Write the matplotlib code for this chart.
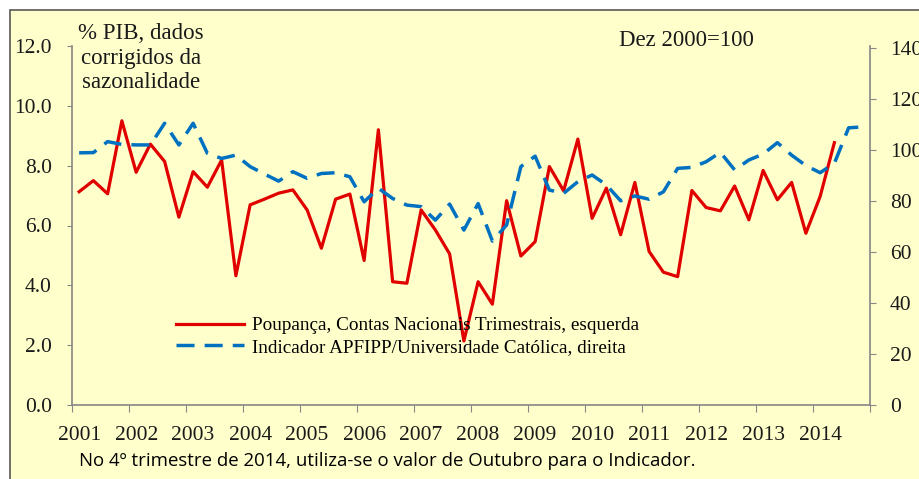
import matplotlib
matplotlib.use("Agg")
import matplotlib.pyplot as plt
from matplotlib.patches import Rectangle
import numpy as np

# quarterly data, 2001Q1 onwards
poupanca = [7.13, 7.50, 7.06, 9.50, 7.78, 8.72, 8.14, 6.28, 7.80, 7.28, 8.19, 4.32,
            6.69, 6.88, 7.08, 7.19, 6.52, 5.24, 6.88, 7.05, 4.83, 9.20, 4.12, 4.07,
            6.52, 5.85, 5.05, 2.14, 4.12, 3.37, 6.83, 4.98, 5.46, 7.97, 7.16, 8.89,
            6.24, 7.25, 5.69, 7.44, 5.13, 4.44, 4.29, 7.17, 6.60, 6.49, 7.32, 6.19,
            7.84, 6.86, 7.44, 5.74, 6.97, 8.77]
indicador = [98.9, 99.0, 103.3, 102.2, 102.0, 102.0, 110.5, 102.0, 110.5, 98.7, 96.7, 98.0,
             93.5, 90.6, 87.8, 91.5, 88.9, 90.8, 91.1, 89.5, 79.7, 85.0, 81.0, 78.4,
             77.8, 72.5, 78.8, 68.6, 79.0, 64.3, 70.6, 93.5, 97.6, 84.3, 83.0, 87.6,
             90.2, 86.3, 80.1, 82.0, 80.7, 83.6, 92.8, 93.2, 95.4, 99.1, 92.2, 96.1,
             98.4, 102.9, 98.0, 93.9, 91.1, 94.8, 108.7, 109.1]
anos = list(range(2001, 2015))
left_ticks = [0, 2, 4, 6, 8, 10, 12]
right_ticks = [0, 20, 40, 60, 80, 100, 120, 140]

x_p = 2001 + (np.arange(len(poupanca)) + 0.5) / 4
x_i = 2001 + (np.arange(len(indicador)) + 0.5) / 4

bg = "#FFFFCC"
serif = "Liberation Serif"
txt = "#1a1a1a"

fig = plt.figure(figsize=(9.2, 4.79), dpi=100, facecolor="white")
fig.patches.append(Rectangle((10 / 920, -0.02), 1.0, (479 - 10) / 479 + 0.02,
                             transform=fig.transFigure, facecolor=bg,
                             edgecolor="#595959", lw=1.2, zorder=-10))

ax = fig.add_axes([72 / 920, 74 / 479, 798 / 920, 359 / 479])
ax.set_facecolor("none")
ax2 = ax.twinx()

l1, = ax.plot(x_p, poupanca, color="#E00000", lw=2.3,
              label="Poupança, Contas Nacionais Trimestrais, esquerda")
l2, = ax2.plot(x_i, indicador, color="#0070C0", lw=2.5, ls=(0, (5.2, 2.9)),
               label="Indicador APFIPP/Universidade Católica, direita")

ax.set_xlim(2001, 2015)
ax.set_ylim(0, 12)
ax2.set_ylim(0, 140.8)

ax.set_xticks(range(2001, 2016))
ax.set_xticklabels([])
ax.set_xticks([a + 0.125 for a in anos], minor=True)
ax.set_xticklabels([str(a) for a in anos], minor=True)
ax.tick_params(axis="x", which="major", length=5, color="#868686", direction="out")
ax.tick_params(axis="x", which="minor", length=0, pad=15, labelsize=15.5,
               labelcolor=txt)

ax.set_yticks(left_ticks)
ax.set_yticklabels([f"{v:.1f}" for v in left_ticks])
ax.tick_params(axis="y", length=3.6, color="#868686", pad=11, labelsize=15.5,
               labelcolor=txt)
ax2.set_yticks(right_ticks)
ax2.tick_params(axis="y", length=4.3, color="#868686", pad=10, labelsize=15.5,
                labelcolor=txt)

for a in (ax, ax2):
    a.spines["top"].set_visible(False)
    for s in a.spines.values():
        s.set_color("#868686")
        s.set_linewidth(1.2)
ax.spines["right"].set_visible(False)
ax2.spines["left"].set_visible(False)
ax2.spines["bottom"].set_visible(False)

for lab in ax.get_xticklabels(minor=True) + ax.get_yticklabels() + ax2.get_yticklabels():
    lab.set_fontfamily(serif)

fig.text(141 / 920, 1 - 23 / 479, "% PIB, dados\ncorrigidos da\nsazonalidade",
         ha="center", va="top", fontsize=16.5, family=serif, color=txt,
         linespacing=1.22)
fig.text(619 / 920, 1 - 41 / 479, "Dez 2000=100", ha="left", va="center",
         fontsize=16.5, family=serif, color=txt)

ax.legend(handles=[l1, l2], loc="upper left",
          bbox_to_anchor=((176 - 72) / 798, (405 - 317) / 359),
          frameon=False, handlelength=3.55, handletextpad=0.42,
          labelspacing=0.2, borderaxespad=0, borderpad=0,
          prop={"family": serif, "size": 13.8})

fig.text(79 / 920, 1 - 461 / 479,
         "No 4º trimestre de 2014, utiliza-se o valor de Outubro para o Indicador.",
         ha="left", va="center", fontsize=13.4, family="Open Sans", color="black")

fig.savefig("out.png", dpi=100, facecolor=fig.get_facecolor())
